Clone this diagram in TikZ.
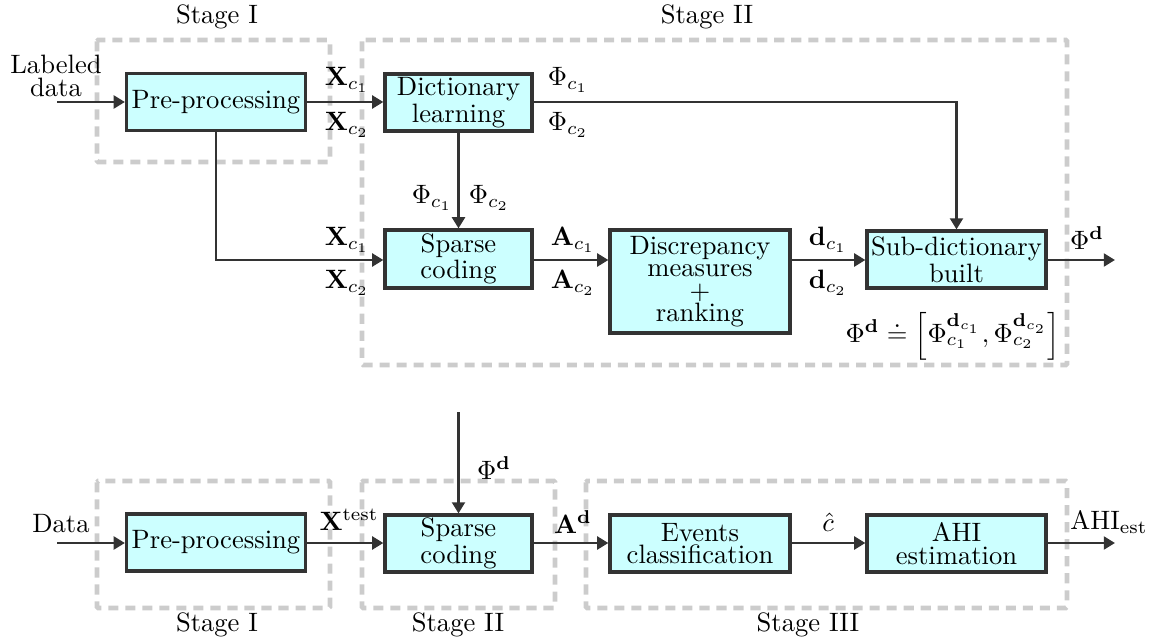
\documentclass[tikz,border=0pt]{standalone}
\usepackage{amsmath,amssymb}
\usetikzlibrary{arrows.meta}
\definecolor{boxfill}{HTML}{CCFFFF}
\definecolor{ink}{HTML}{333333}
\definecolor{stagegray}{HTML}{CCCCCC}
\begin{document}
\begin{tikzpicture}[x=0.376pt,y=-0.376pt,
  blk/.style={draw=ink, fill=boxfill, line width=1.2pt, align=center, inner sep=0pt,
    font={\fontsize{10}{8.4}\selectfont}},
  conn/.style={draw=ink, line width=1.1pt, -{Triangle[length=4.2pt,width=4.8pt]}},
  stagebox/.style={draw=stagegray, line width=1.8pt, dash pattern=on 3.8pt off 2.6pt, rounded corners=0.5pt},
  lbl/.style={inner sep=0pt, font=\fontsize{10}{12}\selectfont},
]
\useasboundingbox (0,0) rectangle (1149,639);

% stage boxes
\draw[stagebox] (97,40) rectangle (330,162);
\draw[stagebox] (362,40) rectangle (1067,365);
\draw[stagebox] (97,481) rectangle (330,608);
\draw[stagebox] (362,481) rectangle (555,608);
\draw[stagebox] (586,481) rectangle (1067,608);

\node[lbl] (s1t) at (217,17) {Stage I};
\node[lbl] (s2t) at (707,17) {Stage II};
\node[lbl] (s1b) at (217,625) {Stage I};
\node[lbl] (s2b) at (458,625) {Stage II};
\node[lbl] (s3b) at (808,625) {Stage III};

% top blocks
\node[blk, minimum width=67.3pt, minimum height=21.4pt] (pre) at (216,102) {Pre-processing};
\node[blk, minimum width=55.3pt, minimum height=21.4pt] (dict) at (458.5,102.5) {Dictionary\\learning};
\node[blk, minimum width=55.3pt, minimum height=21.8pt] (sc) at (458.5,259) {Sparse\\coding};
\node[blk, minimum width=67.7pt, minimum height=38.7pt] (disc) at (700,281.5) {Discrepancy\\measures\\+\\ranking};
\node[blk, minimum width=67.3pt, minimum height=21.4pt] (sub) at (956.5,259.5) {Sub-dictionary\\built};

% bottom blocks
\node[blk, minimum width=67.3pt, minimum height=21.4pt] (pre2) at (216,542.5) {Pre-processing};
\node[blk, minimum width=55.3pt, minimum height=21.4pt] (sc2) at (458.5,543.5) {Sparse\\coding};
\node[blk, minimum width=67.7pt, minimum height=21.4pt] (ev) at (700,543.5) {Events\\classification};
\node[blk, minimum width=67.3pt, minimum height=21.4pt] (ahi) at (956.5,543.5) {AHI\\estimation};

% free ends
\coordinate (in1) at (57,102);
\coordinate (out1) at (1115,260);
\coordinate (in2) at (57,543);
\coordinate (out2) at (1115,543);
\coordinate (phin) at (458.5,412);
\coordinate (bend1) at (216,260);
\coordinate (bend2) at (956.5,102);

% top connectors
\draw[conn] (in1) -- (pre.west);
\draw[conn] (pre.east) -- (dict.west |- pre.east);
\draw[conn] (pre.south -| bend1) -- (bend1) -- (sc.west |- bend1);
\draw[conn] (dict.south) -- (sc.north);
\draw[conn] (dict.east |- bend2) -- (bend2) -- (sub.north);
\draw[conn] (sc.east |- bend1) -- (disc.west |- bend1);
\draw[conn] (disc.east |- bend1) -- (sub.west |- bend1);
\draw[conn] (sub.east |- out1) -- (out1);

% bottom connectors
\draw[conn] (in2) -- (pre2.west |- in2);
\draw[conn] (pre2.east |- in2) -- (sc2.west |- in2);
\draw[conn] (phin) -- (sc2.north);
\draw[conn] (sc2.east |- in2) -- (ev.west |- in2);
\draw[conn] (ev.east |- in2) -- (ahi.west |- in2);
\draw[conn] (ahi.east |- in2) -- (out2);

% labels top
\node[lbl, align=center, font={\fontsize{10}{8.4}\selectfont}] (ld) at (56,76) {Labeled\\data};
\node[lbl] (x1a) at (347,80) {$\mathbf{X}_{c_1}$};
\node[lbl] (x2a) at (347,125) {$\mathbf{X}_{c_2}$};
\node[lbl] (p1a) at (568,80) {$\Phi_{c_1}$};
\node[lbl] (p2a) at (568,125) {$\Phi_{c_2}$};
\node[lbl] (p1b) at (432,198) {$\Phi_{c_1}$};
\node[lbl] (p2b) at (489,198) {$\Phi_{c_2}$};
\node[lbl] (x1b) at (347,240) {$\mathbf{X}_{c_1}$};
\node[lbl] (x2b) at (347,283) {$\mathbf{X}_{c_2}$};
\node[lbl] (a1) at (573,240) {$\mathbf{A}_{c_1}$};
\node[lbl] (a2) at (573,283) {$\mathbf{A}_{c_2}$};
\node[lbl] (d1) at (828,240) {$\mathbf{d}_{c_1}$};
\node[lbl] (d2) at (828,283) {$\mathbf{d}_{c_2}$};
\node[lbl] (pd) at (1087,238) {$\Phi^{\mathbf{d}}$};
\node[lbl] (form) at (953,336) {$\Phi^{\mathbf{d}} \doteq \left[\Phi_{c_1}^{\mathbf{d}_{c_1}}, \Phi_{c_2}^{\mathbf{d}_{c_2}}\right]$};

% labels bottom
\node[lbl] (dat) at (61,524) {Data};
\node[lbl] (xt) at (349,520) {$\mathbf{X}^{\mathrm{test}}$};
\node[lbl] (pd2) at (494,468) {$\Phi^{\mathbf{d}}$};
\node[lbl] (ad) at (573,522) {$\mathbf{A}^{\mathbf{d}}$};
\node[lbl] (ch) at (828,522) {$\hat{c}$};
\node[lbl] (ahio) at (1109,522) {$\mathrm{AHI}_{\mathrm{est}}$};
\end{tikzpicture}
\end{document}
